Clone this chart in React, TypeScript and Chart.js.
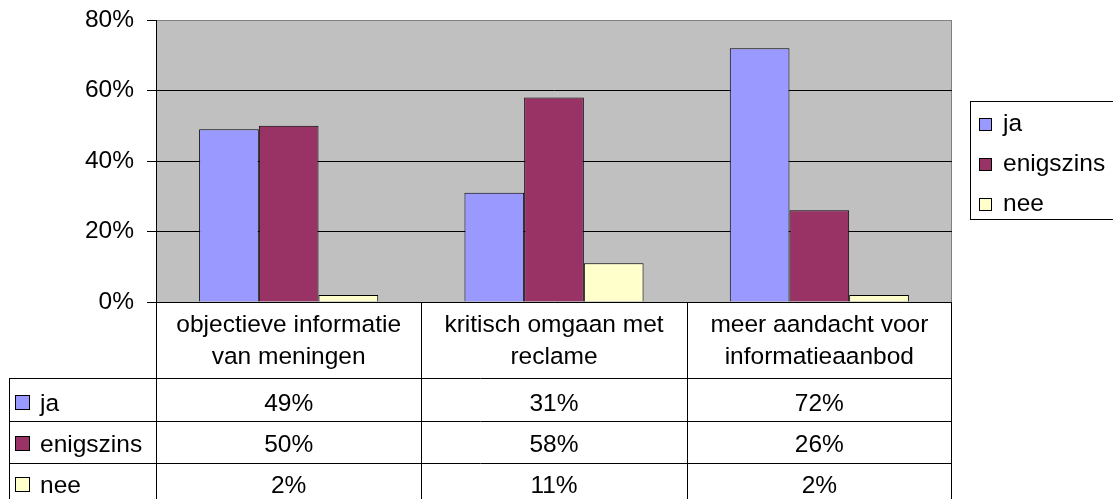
import React, { useEffect, useRef } from 'react';
import { Chart, registerables } from 'chart.js';

Chart.register(...registerables);

// ---- data ----
const categoryLines: string[][] = [
  ['objectieve informatie', 'van meningen'],
  ['kritisch omgaan met', 'reclame'],
  ['meer aandacht voor', 'informatieaanbod'],
];
const seriesNames = ['ja', 'enigszins', 'nee'];
const jaValues = [49, 31, 72];
const enigszinsValues = [50, 58, 26];
const neeValues = [2, 11, 2];
const seriesColors = ['#9999FF', '#993366', '#FFFFCC'];
const yTickValues = [0, 20, 40, 60, 80];

const FONT_FAMILY = '"Liberation Sans", Arial, Helvetica, sans-serif';
const FONT_SIZE = 24.5;
const FONT = `${FONT_SIZE}px ${FONT_FAMILY}`;

const crisp = (v: number) => Math.round(v) + 0.5;

const plotBgPlugin = {
  id: 'plotBg',
  beforeDraw(chart: any) {
    const { ctx, chartArea: a } = chart;
    ctx.save();
    ctx.fillStyle = '#FFFFFF';
    ctx.fillRect(0, 0, chart.width, chart.height);
    ctx.fillStyle = '#C0C0C0';
    ctx.fillRect(a.left, a.top, a.right - a.left, a.bottom - a.top);
    ctx.strokeStyle = '#808080';
    ctx.lineWidth = 1;
    ctx.strokeRect(crisp(a.left), crisp(a.top), Math.round(a.right - a.left) - 1, Math.round(a.bottom - a.top));
    ctx.restore();
  },
};

const tablePlugin = {
  id: 'dataTable',
  afterDraw(chart: any) {
    const { ctx, chartArea: a } = chart;
    const xs = chart.scales.x;
    const H = chart.height;
    const n = categoryLines.length;
    const centers = categoryLines.map((_, i) => xs.getPixelForValue(i));
    const bounds: number[] = [a.left];
    for (let i = 0; i < n - 1; i++) bounds.push((centers[i] + centers[i + 1]) / 2);
    bounds.push(a.right);

    const tableLeft = 9;
    const rowLines = [378, 421, 463];
    const headerBaselines = [332, 364];
    const rowBaselines = [411, 452, 493];

    ctx.save();
    ctx.strokeStyle = '#000';
    ctx.lineWidth = 1;
    ctx.beginPath();
    for (const y of rowLines) {
      ctx.moveTo(tableLeft, crisp(y));
      ctx.lineTo(Math.round(a.right), crisp(y));
    }
    bounds.forEach((bx, i) => {
      const xx = i === bounds.length - 1 ? Math.round(bx) - 0.5 : crisp(bx);
      ctx.moveTo(xx, Math.round(a.bottom));
      ctx.lineTo(xx, H);
    });
    ctx.moveTo(crisp(tableLeft), rowLines[0]);
    ctx.lineTo(crisp(tableLeft), H);
    ctx.stroke();

    ctx.fillStyle = '#000';
    ctx.font = FONT;
    ctx.textBaseline = 'alphabetic';
    ctx.textAlign = 'center';
    categoryLines.forEach((lines, i) => {
      lines.forEach((t, j) => ctx.fillText(t, centers[i], headerBaselines[j]));
    });

    const datasets = chart.data.datasets;
    datasets.forEach((ds: any, r: number) => {
      const by = rowBaselines[r];
      ctx.fillStyle = ds.backgroundColor;
      ctx.fillRect(15, by - 16, 15, 15);
      ctx.strokeStyle = '#000';
      ctx.strokeRect(15.5, by - 15.5, 14, 14);
      ctx.fillStyle = '#000';
      ctx.textAlign = 'left';
      ctx.fillText(ds.label, 40, by);
      ctx.textAlign = 'center';
      ds.data.forEach((v: number, i: number) => ctx.fillText(`${v}%`, centers[i], by));
    });
    ctx.restore();
  },
};

const legendPlugin = {
  id: 'boxLegend',
  afterDraw(chart: any) {
    const { ctx } = chart;
    const boxLeft = 970;
    const boxTop = 101;
    const boxBottom = 219;
    const baselines = [131, 171, 211];
    ctx.save();
    ctx.fillStyle = '#FFFFFF';
    ctx.fillRect(boxLeft, boxTop, chart.width - boxLeft + 10, boxBottom - boxTop);
    ctx.strokeStyle = '#000';
    ctx.lineWidth = 1;
    ctx.strokeRect(crisp(boxLeft), crisp(boxTop), chart.width - boxLeft + 10, boxBottom - boxTop);
    ctx.font = FONT;
    ctx.textBaseline = 'alphabetic';
    ctx.textAlign = 'left';
    chart.data.datasets.forEach((ds: any, i: number) => {
      const by = baselines[i];
      ctx.fillStyle = ds.backgroundColor;
      ctx.fillRect(979, by - 13, 13, 13);
      ctx.strokeStyle = '#000';
      ctx.strokeRect(979.5, by - 12.5, 12, 12);
      ctx.fillStyle = '#000';
      ctx.fillText(ds.label, 1003, by);
    });
    ctx.restore();
  },
};

export default function App() {
  const canvasRef = useRef<HTMLCanvasElement | null>(null);

  useEffect(() => {
    if (!canvasRef.current) return;
    const seriesValues = [jaValues, enigszinsValues, neeValues];
    const chart = new Chart(canvasRef.current, {
      type: 'bar',
      data: {
        labels: categoryLines.map((l) => l.join(' ')),
        datasets: seriesNames.map((name, i) => ({
          label: name,
          data: seriesValues[i],
          backgroundColor: seriesColors[i],
          borderColor: '#000000',
          borderWidth: 1,
          categoryPercentage: 0.675,
          barPercentage: 1,
        })),
      },
      options: {
        animation: false,
        responsive: true,
        maintainAspectRatio: false,
        layout: { padding: { left: 0, top: 20, right: 161, bottom: 197 } },
        plugins: {
          legend: { display: false },
          tooltip: { enabled: false },
        },
        scales: {
          x: { display: false },
          y: {
            min: 0,
            max: 80,
            afterFit: (scale: any) => {
              scale.width = 156;
            },
            afterBuildTicks: (scale: any) => {
              scale.ticks = yTickValues.map((v) => ({ value: v }));
            },
            ticks: {
              stepSize: 20,
              padding: 13,
              color: '#000',
              font: { family: FONT_FAMILY, size: FONT_SIZE, lineHeight: 0.4 },
              callback: (v: any) => `${v}%`,
            },
            grid: {
              color: (c: any) => (c.tick && c.tick.value === 80 ? '#808080' : '#000000'),
              tickColor: '#000000',
              tickLength: 9,
              lineWidth: 1,
            },
            border: { color: '#000000', width: 1 },
          },
        },
      },
      plugins: [plotBgPlugin, tablePlugin, legendPlugin],
    });
    return () => chart.destroy();
  }, []);

  return (
    <div style={{ position: 'absolute', left: 0, top: 0, width: 1113, height: 499 }}>
      <canvas ref={canvasRef} />
    </div>
  );
}
